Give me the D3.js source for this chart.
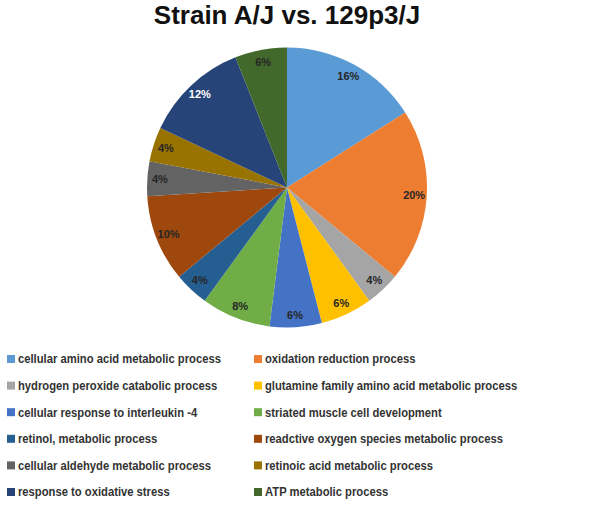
<!DOCTYPE html>
<html><head><meta charset="utf-8">
<script src="https://cdn.jsdelivr.net/npm/d3@7"></script>
<style>body{margin:0;background:#fff}</style>
</head><body>
<svg id="c" width="605" height="506"></svg>
<script>
const title = "Strain A/J vs. 129p3/J";
const categories = [
  "cellular amino acid metabolic process",
  "oxidation reduction process",
  "hydrogen peroxide catabolic process",
  "glutamine family amino acid metabolic process",
  "cellular response to interleukin -4",
  "striated muscle cell development",
  "retinol, metabolic process",
  "readctive oxygen species metabolic process",
  "cellular aldehyde metabolic process",
  "retinoic acid metabolic process",
  "response to oxidative stress",
  "ATP metabolic process"
];
const values = [16, 20, 4, 6, 6, 8, 4, 10, 4, 4, 12, 6];
const colors = ["#5B9BD5","#ED7D31","#A5A5A5","#FFC000","#4472C4","#70AD47",
                "#255E91","#9E480E","#636363","#997300","#264478","#43682B"];
const labelColors = ["#262626","#262626","#262626","#262626","#262626","#262626",
                     "#262626","#262626","#262626","#262626","#ffffff","#262626"];

const svg = d3.select("#c");
svg.append("text").attr("x", 287).attr("y", 24).attr("text-anchor","middle")
  .attr("font-family","Arial, 'Liberation Sans', sans-serif").attr("font-weight","bold")
  .attr("font-size", 26).attr("fill","#111").text(title);

const cx = 287, cy = 187.5, r = 140;
const pie = d3.pie().sort(null).value(d => d);
const arcs = pie(values);
const arc = d3.arc().innerRadius(0).outerRadius(r);
const labelArc = d3.arc().innerRadius(r*0.91).outerRadius(r*0.91);
const g = svg.append("g").attr("transform", `translate(${cx},${cy})`);
g.selectAll("path").data(arcs).join("path")
  .attr("d", arc).attr("fill", (d,i) => colors[i]);
g.selectAll("text").data(arcs).join("text")
  .attr("transform", d => { const [x,y] = labelArc.centroid(d); return `translate(${x},${y})`; })
  .attr("text-anchor","middle").attr("dy","0.35em")
  .attr("font-family","Arial, 'Liberation Sans', sans-serif").attr("font-weight","bold")
  .attr("font-size", 11).attr("fill", (d,i) => labelColors[i])
  .text(d => d.data + "%");

const legend = svg.append("g");
const colX = [7, 254], rowY0 = 359, rowH = 26.6;
categories.forEach((c, i) => {
  const col = i % 2, row = Math.floor(i / 2);
  const y = rowY0 + row * rowH;
  legend.append("rect").attr("x", colX[col]).attr("y", y - 4).attr("width", 8).attr("height", 8)
    .attr("fill", colors[i]);
  legend.append("text")
    .attr("transform", `translate(${colX[col] + 11},${y}) scale(0.9,1)`)
    .attr("dy","0.35em")
    .attr("font-family","Arial, 'Liberation Sans', sans-serif").attr("font-weight","bold")
    .attr("font-size", 12.5).attr("fill","#333").text(c);
});
</script>
</body></html>
